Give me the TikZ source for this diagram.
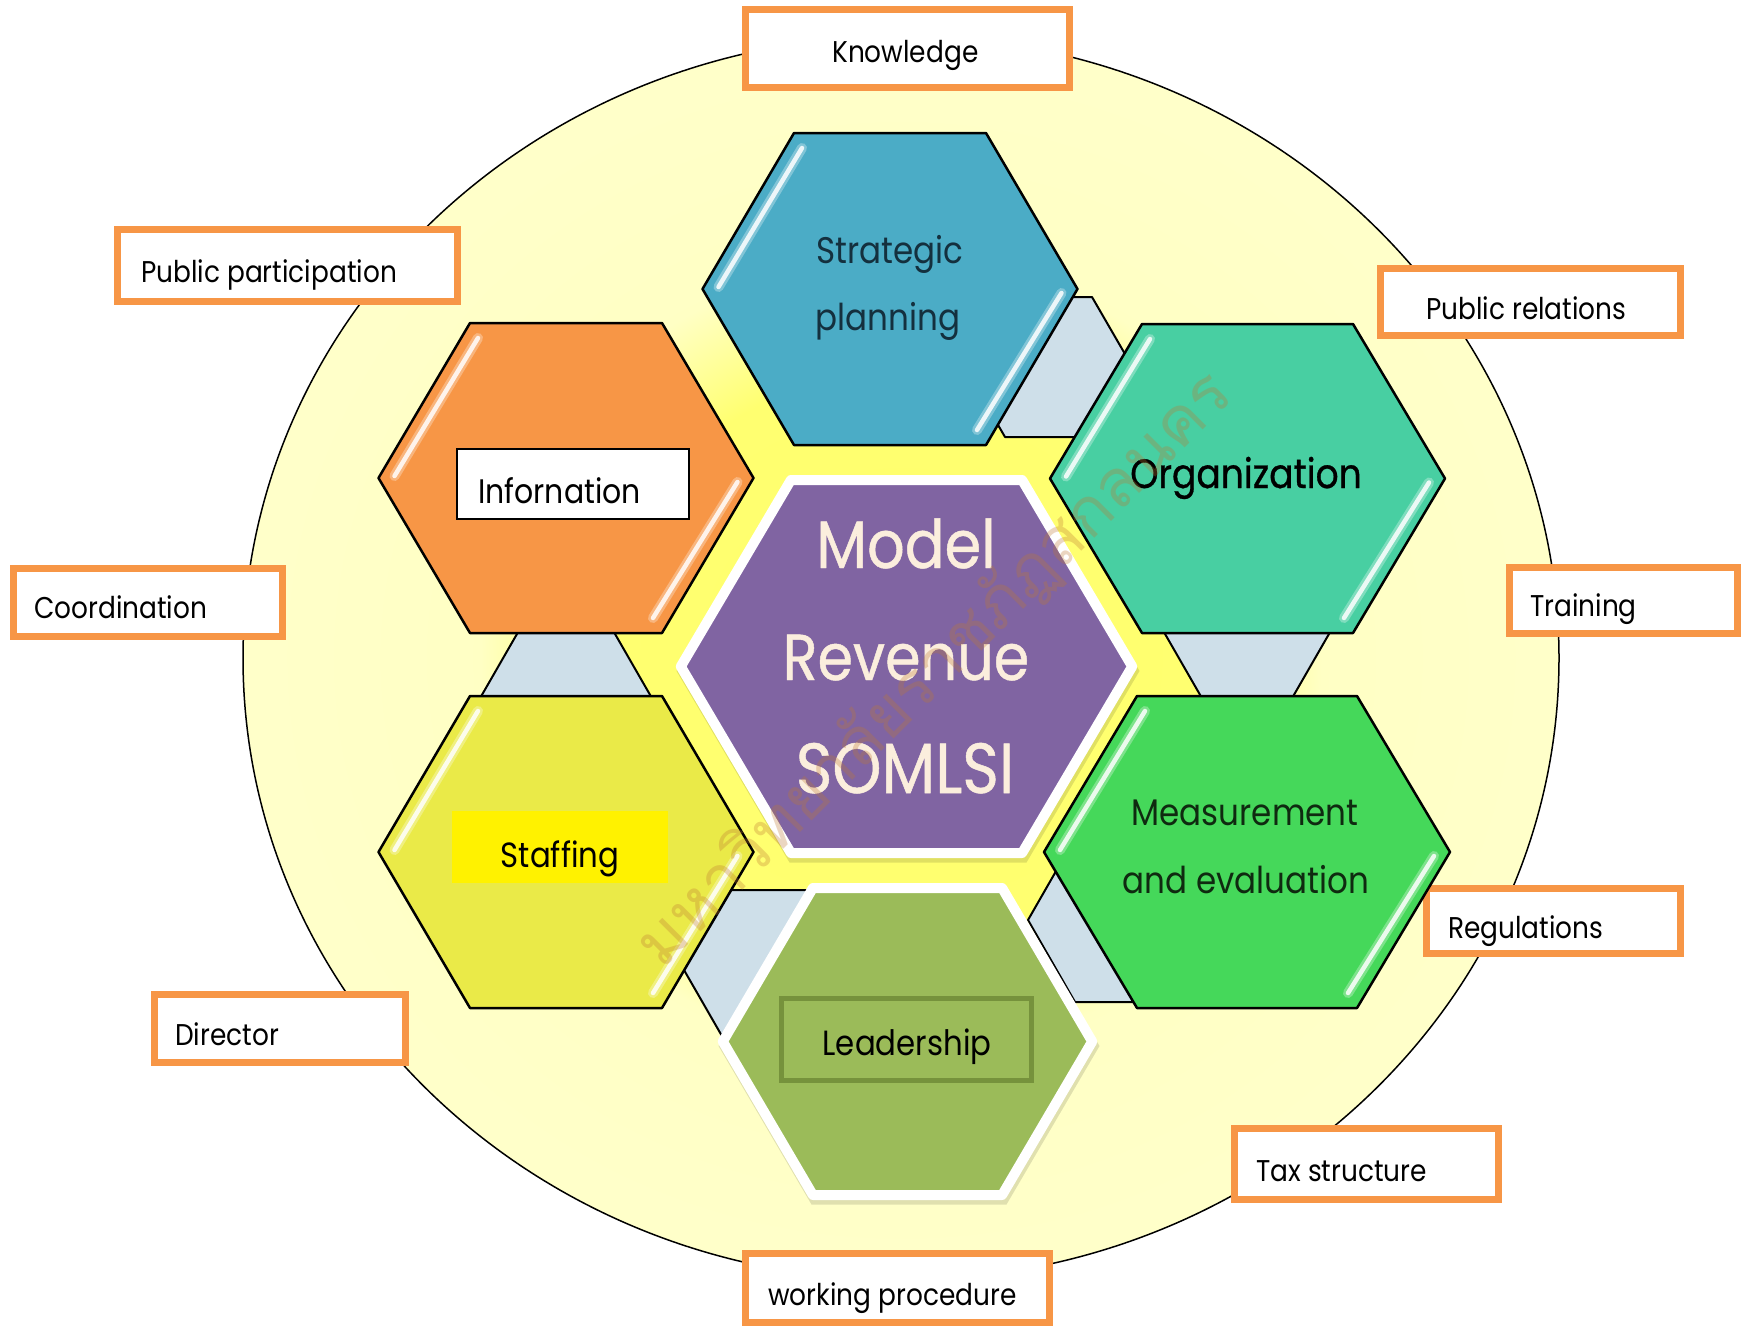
\documentclass[tikz,border=0pt]{standalone}
\usepackage{fontspec}
\newfontfamily\popf[FakeStretch=0.88]{Poppins}
\newfontfamily\popb[FakeStretch=0.88,FakeBold=0.7]{Poppins}
\newfontfamily\thaifont[Script=Thai]{Loma}
\newcommand{\fs}[1]{\fontsize{#1}{#1}\selectfont}
\definecolor{cStrat}{HTML}{4BACC6}
\definecolor{cInfo}{HTML}{F79646}
\definecolor{cOrg}{HTML}{48CFA2}
\definecolor{cStaff}{HTML}{EAEA48}
\definecolor{cMeas}{HTML}{45D85A}
\definecolor{cLead}{HTML}{9BBB59}
\definecolor{cLeadBox}{HTML}{76923C}
\definecolor{cCenter}{HTML}{8064A2}
\definecolor{cGrey}{HTML}{CEDFE9}
\definecolor{cLabel}{HTML}{F79646}
\definecolor{cCream}{HTML}{FBEEDD}
\definecolor{cStratText}{HTML}{14303E}
\definecolor{cMeasText}{HTML}{0F2A10}
\definecolor{cWater}{RGB}{190,120,50}
\pgfdeclareradialshading{bgshade}{\pgfpoint{0bp}{0bp}}{rgb(0bp)=(1,1,0.42); rgb(11.5bp)=(1,1,0.44); rgb(16bp)=(1,1,0.77); rgb(25bp)=(1,1,0.79); rgb(50bp)=(1,1,0.79)}
% style, cx, cy, w, a, h
\newcommand{\hexshape}[6]{\path[#1] ({#2-(#4)},#3) -- ({#2-(#5)},{#3-(#6)}) -- ({#2+#5},{#3-(#6)}) -- ({#2+#4},#3) -- ({#2+#5},{#3+#6}) -- ({#2-(#5)},{#3+#6}) -- cycle;}
% cx, cy, w, a, h
\newcommand{\glosshex}[5]{%
  \draw[glossglow] ({#1-(#3)+16},{#2-2}) -- ({#1-(#4)+8},{#2-(#5)+15});
  \draw[glosscore] ({#1-(#3)+16},{#2-2}) -- ({#1-(#4)+8},{#2-(#5)+15});
  \draw[glossglow] ({#1+#3-16},{#2+4}) -- ({#1+#4-9},{#2+#5-15});
  \draw[glosscore] ({#1+#3-16},{#2+4}) -- ({#1+#4-9},{#2+#5-15});}
\begin{document}
\begin{tikzpicture}[x=1pt,y=-1pt,
  glossglow/.style={white, opacity=0.3, line width=10, line cap=round},
  glosscore/.style={white, opacity=0.85, line width=4.5, line cap=round},
  hexline/.style={draw=black, line width=2.5, line join=round},
  greyhex/.style={fill=cGrey, draw=black, line width=2, line join=round},
  lbox/.style={draw=cLabel, fill=white, line width=7},
  ltext/.style={anchor=base west, inner sep=0, font=\popf\fs{30}, text=black},
  htext/.style={anchor=base, inner sep=0, font=\popf\fs{36}, text=black},
  ctext/.style={anchor=base, inner sep=0, text=cCream},
  shadowhex/.style={fill=black, opacity=0.12}]
\useasboundingbox (0,0) rectangle (1741,1326);
\fill[white] (0,0) rectangle (1741,1326);
% background ellipse
\shade[shading=bgshade] (901,658) ellipse [x radius=658, y radius=622];
\draw[line width=1.5] (901,658) ellipse [x radius=658, y radius=622];
% label boxes
\draw[lbox] (745.5,9.5) rectangle (1069.5,87.5);
\draw[lbox] (117.5,229.5) rectangle (457.5,301.5);
\draw[lbox] (1380.5,268.5) rectangle (1680.5,335.5);
\draw[lbox] (13.5,568.5) rectangle (282.5,636.5);
\draw[lbox] (1509.5,567.5) rectangle (1737.5,633.5);
\draw[lbox] (154.5,994.5) rectangle (405.5,1062.5);
\draw[lbox] (1426.5,888.5) rectangle (1680.5,953.5);
\draw[lbox] (1234.5,1128.5) rectangle (1498.5,1199.5);
\draw[lbox] (745.5,1253.5) rectangle (1049.5,1322.5);
\node[ltext] (knowledge) at (832,62) {Knowledge};
\node[ltext] (pubpart) at (141,282) {Public participation};
\node[ltext] (pubrel) at (1426,319) {Public relations};
\node[ltext] (coord) at (34,618) {Coordination};
\node[ltext] (training) at (1530,616) {Training};
\node[ltext] (director) at (175,1045) {Director};
\node[ltext] (regul) at (1448,938) {Regulations};
\node[ltext] (tax) at (1256,1181) {Tax structure};
\node[ltext] (workproc) at (768,1305) {working procedure};
% grey connector hexagons
\hexshape{greyhex}{1048.5}{367}{84}{43.5}{70}
\hexshape{greyhex}{566}{700}{87}{41}{80}
\hexshape{greyhex}{1247}{620}{90}{44}{80}
\hexshape{greyhex}{800}{970}{116}{70}{80}
\hexshape{greyhex}{1135}{920}{107}{60}{82}
% glossy hexagons
\hexshape{hexline, fill=cStrat}{890}{289}{187.5}{96}{156}
\glosshex{890}{289}{187.5}{96}{156}
\hexshape{hexline, fill=cInfo}{566}{478}{187.5}{96}{155}
\glosshex{566}{478}{187.5}{96}{155}
\hexshape{hexline, fill=cOrg}{1247.5}{478.5}{197.5}{105.5}{154.5}
\glosshex{1247.5}{478.5}{197.5}{105.5}{154.5}
\hexshape{hexline, fill=cStaff}{566}{852}{187.5}{96}{156}
\glosshex{566}{852}{187.5}{96}{156}
\hexshape{hexline, fill=cMeas}{1247}{852}{203}{110}{156}
\glosshex{1247}{852}{203}{110}{156}
% center hexagon
\hexshape{shadowhex}{908}{671}{231.5}{118.5}{191.5}
\hexshape{fill=cCenter, draw=white, line width=10, line join=round}{906.5}{666.5}{225.7}{115.6}{186.5}
% leadership hexagon
\hexshape{shadowhex}{909}{1046}{190.5}{97.5}{158.5}
\hexshape{fill=cLead, draw=white, line width=10, line join=round}{907.5}{1041.5}{184.7}{94.6}{153.5}
% inner boxes
\draw[fill=white, draw=black, line width=1.5] (457,449) rectangle (689,519);
\fill[yellow] (452,811) rectangle (668,883);
\draw[draw=cLeadBox, line width=5] (781.5,998.5) rectangle (1031.5,1080.5);
% hexagon texts
\node[htext, text=cStratText, font=\popf\fs{37}] (strat1) at (890,263) {Strategic};
\node[htext, text=cStratText, font=\popf\fs{37}] (strat2) at (888,330) {planning};
\node[ltext, font=\popf\fs{34}] (info) at (478,503) {Infornation};
\node[htext, font=\popb\fs{41}] (org) at (1246,488) {Organization};
\node[htext, font=\popf\fs{35}] (staff) at (560,867) {Staffing};
\node[htext, text=cMeasText, font=\popf\fs{37}] (meas1) at (1245,825) {Measurement};
\node[htext, text=cMeasText, font=\popf\fs{37}] (meas2) at (1246,893) {and evaluation};
\node[htext, font=\popf\fs{35}] (lead) at (907,1055) {Leadership};
\node[ctext, font=\popb\fs{67}] (model) at (906,568) {Model};
\node[ctext, font=\popb\fs{65}] (revenue) at (906,680) {Revenue};
\node[ctext, font=\popb\fs{71}] (somlsi) at (905,793) {SOMLSI};
% watermark
\node[rotate=45, font=\thaifont\fs{66}, text=cWater, opacity=0.3, inner sep=0] (wm) at (935,670) {มหาวิทยาลัยราชภัฏสกลนคร};
\end{tikzpicture}
\end{document}
